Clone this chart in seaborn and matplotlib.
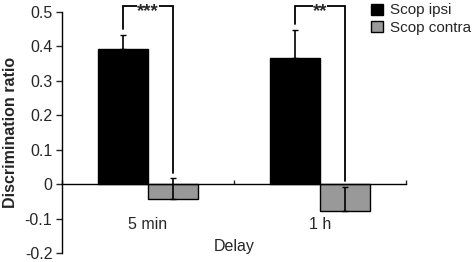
import matplotlib
matplotlib.use("Agg")
import matplotlib.pyplot as plt
import seaborn as sns
import pandas as pd
import numpy as np
from matplotlib.container import BarContainer
from matplotlib.patches import Patch

delays = ["5 min", "1 h"]
groups = ["Scop ipsi", "Scop contra"]
ipsi_vals = [0.393, 0.365]
contra_vals = [-0.044, -0.077]
ipsi_err = [0.039, 0.082]
contra_err = [0.061, 0.070]
sig_labels = ["***", "**"]
y_ticks = [-0.2, -0.1, 0, 0.1, 0.2, 0.3, 0.4, 0.5]
y_tick_labels = ["-0.2", "-0.1", "0", "0.1", "0.2", "0.3", "0.4", "0.5"]

df = pd.DataFrame({
    "Delay": delays * 2,
    "Group": [groups[0]] * 2 + [groups[1]] * 2,
    "Ratio": ipsi_vals + contra_vals,
})

sns.set_theme(style="white")
plt.rcParams["font.family"] = ["Liberation Sans", "DejaVu Sans"]

fig = plt.figure(figsize=(4.73, 2.62), dpi=100)
ax = fig.add_axes([62 / 473, 1 - 253 / 262, (406 - 62) / 473, (253 - 12) / 262])

sns.barplot(data=df, x="Delay", y="Ratio", hue="Group", order=delays, hue_order=groups,
            palette=["#000000", "#999999"], edgecolor="black", linewidth=1.0,
            width=0.58, errorbar=None, ax=ax, legend=False)

errs = [ipsi_err, contra_err]
vals = [ipsi_vals, contra_vals]
bar_containers = [c for c in ax.containers if isinstance(c, BarContainer)]
centers = []
for gi, cont in enumerate(bar_containers):
    cs = []
    for di, bar in enumerate(cont.patches):
        cx = bar.get_x() + bar.get_width() / 2
        cs.append(cx)
        ax.errorbar([cx], [vals[gi][di]], yerr=[[0], [errs[gi][di]]], fmt="none",
                    ecolor="black", elinewidth=1.2, capsize=2.5, capthick=1.0, zorder=5)
    centers.append(cs)

# significance brackets
for di in range(len(delays)):
    x1, x2 = centers[0][di], centers[1][di]
    ytop = 0.518
    yl = ipsi_vals[di] + ipsi_err[di] + 0.018
    yr = contra_vals[di] + contra_err[di] + 0.016
    ax.plot([x1, x1, x2, x2], [yl, ytop, ytop, yr], color="black", lw=1.3,
            clip_on=False, zorder=6, solid_joinstyle="miter")
    ax.text((x1 + x2) / 2, ytop - 0.031, sig_labels[di], ha="center", va="baseline",
            fontsize=13.5, fontweight="bold", zorder=7, clip_on=False,
            bbox=dict(facecolor="white", edgecolor="none", pad=0.0))

ax.set_xlim(-0.5, 1.5)
ax.set_ylim(-0.2, 0.5)
ax.set_yticks(y_ticks)
ax.set_yticklabels(y_tick_labels, fontsize=11.5)
ax.tick_params(axis="y", direction="out", length=4, width=1, left=True, pad=3)

ax.spines["top"].set_visible(False)
ax.spines["right"].set_visible(False)
ax.spines["bottom"].set_position(("data", 0))
ax.spines["left"].set_color("black")
ax.spines["bottom"].set_color("black")
ax.spines["left"].set_linewidth(1)
ax.spines["bottom"].set_linewidth(1)

ax.set_xticks([0, 1])
ax.set_xticklabels(delays, fontsize=11.5)
ax.tick_params(axis="x", which="major", length=0, pad=24)
ax.set_xticks([-0.5, 0.5, 1.5], minor=True)
ax.tick_params(axis="x", which="minor", direction="in", length=3, width=1, bottom=True)

ax.set_ylabel("Discrimination ratio", fontsize=11.5, fontweight="bold", labelpad=5)
ax.set_xlabel("")
ax.text(0.5, -0.182, "Delay", ha="center", va="center", fontsize=11.5)

handles = [Patch(facecolor="#000000", edgecolor="black"),
           Patch(facecolor="#999999", edgecolor="black")]
fig.legend(handles, groups, loc="upper left", bbox_to_anchor=(365 / 473, 1.01),
           frameon=False, fontsize=11, handlelength=0.75, handleheight=0.75,
           handletextpad=0.5, labelspacing=0.2, borderaxespad=0)

fig.savefig("out.png", dpi=100)
